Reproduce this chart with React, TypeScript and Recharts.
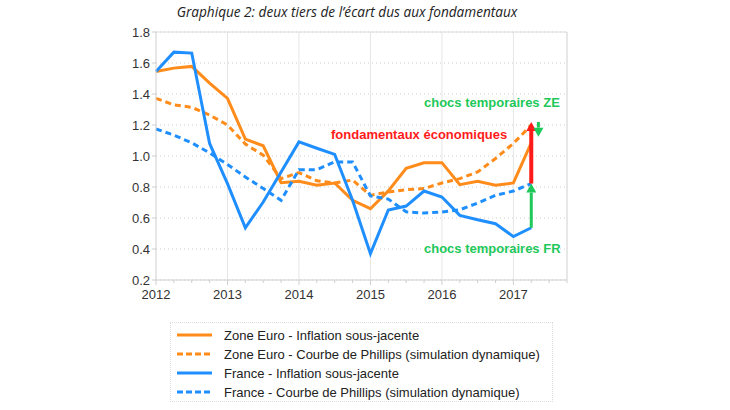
import { LineChart, Line, XAxis, YAxis, CartesianGrid, ReferenceLine } from 'recharts';

// quarters since 2012Q1
const quarters = [0, 1, 2, 3, 4, 5, 6, 7, 8, 9, 10, 11, 12, 13, 14, 15, 16, 17, 18, 19, 20, 21];
const years = [2012, 2013, 2014, 2015, 2016, 2017];
const axisTicks = [0.2, 0.4, 0.6, 0.8, 1.0, 1.2, 1.4, 1.6, 1.8];

const zeInflation = [1.545, 1.567, 1.578, 1.47, 1.372, 1.109, 1.066, 0.828, 0.837, 0.811, 0.826, 0.714, 0.66, 0.775, 0.92, 0.956, 0.957, 0.815, 0.837, 0.811, 0.826, 1.085];
const zePhillips = [1.372, 1.33, 1.314, 1.264, 1.2, 1.077, 1.005, 0.854, 0.893, 0.84, 0.826, 0.845, 0.746, 0.768, 0.783, 0.79, 0.826, 0.854, 0.897, 0.984, 1.081, 1.2];
const frInflation = [1.545, 1.67, 1.664, 1.081, 0.822, 0.537, 0.703, 0.897, 1.091, 1.05, 1.01, 0.714, 0.37, 0.652, 0.677, 0.774, 0.735, 0.617, 0.589, 0.563, 0.48, 0.537];
const frPhillips = [1.174, 1.135, 1.085, 1.02, 0.945, 0.865, 0.79, 0.714, 0.912, 0.912, 0.962, 0.962, 0.742, 0.722, 0.64, 0.632, 0.638, 0.653, 0.696, 0.746, 0.774, 0.822];

const ORANGE = '#ff8c1a';
const BLUE = '#1f8fff';
const GREEN = '#1ec85a';
const RED = '#ff1a1a';
const FONT = '"Liberation Sans", Arial, sans-serif';

const data = quarters.map((q, i) => ({
  q,
  zeInf: zeInflation[i],
  zePh: zePhillips[i],
  frInf: frInflation[i],
  frPh: frPhillips[i],
}));

const series = [
  { key: 'zeInf', name: 'Zone Euro - Inflation sous-jacente', color: ORANGE, dash: undefined },
  { key: 'zePh', name: 'Zone Euro - Courbe de Phillips (simulation dynamique)', color: ORANGE, dash: '6 4' },
  { key: 'frInf', name: 'France - Inflation sous-jacente', color: BLUE, dash: undefined },
  { key: 'frPh', name: 'France - Courbe de Phillips (simulation dynamique)', color: BLUE, dash: '6 4' },
];

const xTicks = Array.from({ length: 24 }, (_, i) => i);

const QuarterTick = (props: any) => {
  const { x, y, payload } = props;
  const isYear = payload.value % 4 === 0;
  return (
    <g>
      <line x1={x} y1={y} x2={x} y2={y + (isYear ? 5 : 3)} stroke="#cfcfcf" />
      {isYear && payload.value / 4 < years.length && (
        <text x={x} y={y + 19} textAnchor="middle" fontSize={13} fontFamily={FONT} fill="#333">
          {years[payload.value / 4]}
        </text>
      )}
    </g>
  );
};

const arrowShape = (color: string, width: number) => (props: any) => {
  const { x1, y1, x2, y2 } = props;
  const dir = y2 < y1 ? 1 : -1;
  const head = 9;
  return (
    <g>
      <line x1={x1} y1={y1} x2={x2} y2={y2 + dir * head} stroke={color} strokeWidth={width} />
      <polygon points={`${x2},${y2} ${x2 - 5},${y2 + dir * head} ${x2 + 5},${y2 + dir * head}`} fill={color} />
    </g>
  );
};

const Note = ({ text, color, left, top }: { text: string; color: string; left: number; top: number }) => (
  <div
    style={{
      position: 'absolute',
      left,
      top,
      color,
      fontFamily: FONT,
      fontWeight: 'bold',
      fontSize: 13,
      whiteSpace: 'nowrap',
      lineHeight: '16px',
    }}
  >
    {text}
  </div>
);

export default function App() {
  return (
    <div style={{ position: 'absolute', left: 0, top: 0, width: 730, height: 410, background: '#fff' }}>
      <div
        style={{
          position: 'absolute',
          left: 97,
          top: 3,
          width: 500,
          textAlign: 'center',
          fontFamily: '"Open Sans", sans-serif',
          fontStyle: 'italic',
          fontSize: 13.6,
          color: '#222',
          lineHeight: '18px',
        }}
      >
        Graphique 2: deux tiers de l’écart dus aux fondamentaux
      </div>

      <div style={{ position: 'absolute', left: 0, top: 0 }}>
        <LineChart width={730} height={310} data={data} margin={{ top: 32, right: 123, bottom: 10, left: 116 }}>
          <CartesianGrid vertical={false} stroke="#cfcfcf" strokeDasharray="1 3" />
          {years.map((_, i) => i > 0 && (
            <ReferenceLine key={i} x={i * 4} stroke="#e6e6e6" />
          ))}
          <ReferenceLine y={1.8} stroke="#dcdcdc" />
          <XAxis
            dataKey="q"
            type="number"
            domain={[0, 23]}
            ticks={xTicks}
            interval={0}
            height={20}
            tickSize={0}
            tickMargin={0}
            tickLine={false}
            axisLine={{ stroke: '#cfcfcf' }}
            tick={<QuarterTick />}
          />
          <YAxis
            domain={[0.2, 1.8]}
            ticks={axisTicks}
            width={40}
            tickSize={4}
            tickMargin={2}
            tickFormatter={(v: number) => v.toFixed(1)}
            axisLine={{ stroke: '#cfcfcf' }}
            tickLine={{ stroke: '#cfcfcf' }}
            tick={{ fill: '#333', fontSize: 13, fontFamily: FONT }}
          />
          <YAxis
            yAxisId="r"
            orientation="right"
            domain={[0.2, 1.8]}
            ticks={axisTicks}
            width={40}
            tickSize={4}
            tickMargin={4}
            tickFormatter={(v: number) => v.toFixed(1)}
            axisLine={{ stroke: '#cfcfcf' }}
            tickLine={{ stroke: '#cfcfcf' }}
            tick={{ fill: '#333', fontSize: 13, fontFamily: FONT }}
          />
          {series.map((s) => (
            <Line
              key={s.key}
              type="linear"
              dataKey={s.key}
              stroke={s.color}
              strokeWidth={3}
              strokeDasharray={s.dash}
              dot={false}
              isAnimationActive={false}
            />
          ))}
          <ReferenceLine
            segment={[{ x: 21, y: frPhillips[21] }, { x: 21, y: 1.22 }]}
            shape={arrowShape(RED, 4)}
          />
          <ReferenceLine
            segment={[{ x: 21, y: frInflation[21] }, { x: 21, y: frPhillips[21] }]}
            shape={arrowShape(GREEN, 3)}
          />
          <ReferenceLine
            segment={[{ x: 21.4, y: 1.22 }, { x: 21.4, y: 1.125 }]}
            shape={arrowShape(GREEN, 3)}
          />
        </LineChart>
      </div>

      <Note text="chocs temporaires ZE" color={GREEN} left={424} top={95} />
      <Note text="fondamentaux économiques" color={RED} left={331} top={127} />
      <Note text="chocs temporaires FR" color={GREEN} left={424} top={241} />

      <div
        style={{
          position: 'absolute',
          left: 170,
          top: 322,
          width: 381,
          height: 78,
          border: '1px dotted #dcdcdc',
          fontFamily: FONT,
          fontSize: 13,
          color: '#222',
        }}
      >
        {series.map((s, i) => (
          <div key={s.key} style={{ position: 'absolute', left: 6, top: 3 + i * 19, height: 18, display: 'flex', alignItems: 'center', whiteSpace: 'nowrap' }}>
            <svg width={36} height={6} style={{ marginRight: 11 }}>
              <line x1={0} y1={3} x2={35} y2={3} stroke={s.color} strokeWidth={3} strokeDasharray={s.dash ? '6 3' : undefined} />
            </svg>
            <span>{s.name}</span>
          </div>
        ))}
      </div>
    </div>
  );
}
